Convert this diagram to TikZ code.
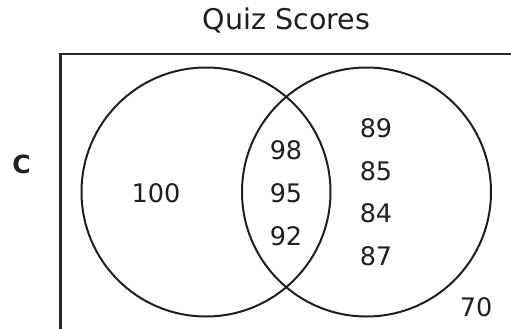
\documentclass[tikz,border=0pt]{standalone}
\usepackage{fontspec}
\setmainfont{DejaVu Sans}
\begin{document}
\begin{tikzpicture}[x=1pt,y=-1pt,
  lbl/.style={font=\fontsize{25.5}{30}\selectfont, text=black!88, inner sep=0pt, anchor=base},
  ring/.style={draw=black!88, line width=2pt}]
\useasboundingbox (0,0) rectangle (511,329);
\draw[draw=black!85, line width=2.2pt] (60.5,340) -- (60.5,54) -- (520,54);
\node[ring, circle, minimum size=249pt, inner sep=0pt] (A) at (206,192) {};
\node[ring, circle, minimum size=249pt, inner sep=0pt] (B) at (366.5,192) {};
\node[lbl, font=\fontsize{28.5}{32}\selectfont] (title) at (286.5,30) {Quiz Scores};
\node[lbl, font=\fontsize{25}{30}\selectfont\bfseries] (c) at (21.5,173) {C};
\node[lbl] (n100) at (156,202.5) {100};
\node[lbl] (n98) at (286,159.5) {98};
\node[lbl] (n95) at (286,202.5) {95};
\node[lbl] (n92) at (286,245.5) {92};
\node[lbl] (n89) at (376,137.5) {89};
\node[lbl] (n85) at (376,180.5) {85};
\node[lbl] (n84) at (376,222.5) {84};
\node[lbl] (n87) at (376,265.5) {87};
\node[lbl] (n70) at (476,316.5) {70};
\end{tikzpicture}
\end{document}
